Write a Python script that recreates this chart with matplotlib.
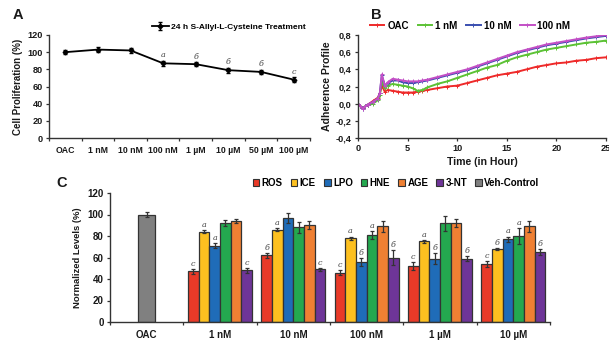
import matplotlib
matplotlib.use("Agg")
import matplotlib.pyplot as plt
from matplotlib.patches import Patch
from matplotlib.ticker import FuncFormatter, FixedLocator
import numpy as np

plt.rcParams['font.family'] = ['Liberation Sans', 'DejaVu Sans']
plt.rcParams['font.weight'] = 'bold'
plt.rcParams['axes.labelweight'] = 'bold'

# ---------------- Panel A data ----------------
a_cats = ["OAC", "1 nM", "10 nM", "100 nM", "1 µM", "10 µM", "50 µM", "100 µM"]
a_vals = [100, 103, 102, 87, 86, 79, 77, 68]
a_err = [2.5, 2.5, 2.5, 3, 2.5, 3, 2.5, 3]
a_letters = ["", "", "", "a", "б", "б", "б", "c"]
a_legend = "24 h S-Allyl-L-Cysteine Treatment"

# ---------------- Panel B data ----------------
b_time = [0, 0.25, 0.5, 0.75, 1, 1.5, 2, 2.2, 2.4, 2.7, 3, 3.5, 4, 4.5, 5, 5.5, 6, 6.5, 7,
          8, 9, 10, 11, 12, 13, 14, 15, 16, 17, 18, 19, 20, 21, 22, 23, 24, 25]
b_oac = [0.0, -0.03, -0.05, -0.03, -0.01, 0.03, 0.07, 0.12, 0.21, 0.14, 0.16, 0.15, 0.14, 0.13,
         0.13, 0.13, 0.14, 0.15, 0.16, 0.18, 0.20, 0.21, 0.24, 0.27, 0.30, 0.33, 0.35, 0.37,
         0.40, 0.43, 0.45, 0.47, 0.48, 0.50, 0.51, 0.53, 0.54]
b_1nm = [0.0, -0.03, -0.05, -0.03, -0.02, 0.0, 0.04, 0.10, 0.26, 0.18, 0.21, 0.23, 0.22, 0.21,
         0.20, 0.18, 0.15, 0.16, 0.19, 0.23, 0.26, 0.30, 0.34, 0.38, 0.42, 0.45, 0.50, 0.54,
         0.57, 0.60, 0.63, 0.65, 0.67, 0.69, 0.71, 0.72, 0.735]
b_10nm = [0.0, -0.03, -0.06, -0.03, -0.01, 0.02, 0.06, 0.12, 0.33, 0.21, 0.24, 0.27, 0.27, 0.25,
          0.24, 0.24, 0.25, 0.26, 0.27, 0.30, 0.33, 0.36, 0.39, 0.43, 0.47, 0.51, 0.55, 0.59,
          0.62, 0.65, 0.68, 0.70, 0.72, 0.74, 0.76, 0.775, 0.79]
b_100nm = [0.0, -0.03, -0.06, -0.03, -0.01, 0.02, 0.06, 0.12, 0.34, 0.21, 0.25, 0.29, 0.28, 0.27,
           0.26, 0.26, 0.26, 0.27, 0.28, 0.31, 0.34, 0.37, 0.40, 0.44, 0.48, 0.52, 0.56, 0.60,
           0.63, 0.66, 0.69, 0.71, 0.73, 0.75, 0.77, 0.785, 0.80]
b_names = ["OAC", "1 nM", "10 nM", "100 nM"]
b_colors = ["#ee2a2a", "#5cc235", "#3a4fb0", "#c34fc6"]

# ---------------- Panel C data ----------------
c_groups = ["OAC", "1 nM", "10 nM", "100 nM", "1 µM", "10 µM"]
c_series = ["ROS", "ICE", "LPO", "HNE", "AGE", "3-NT", "Veh-Control"]
c_colors = ["#e93a28", "#fdc020", "#1f6cb8", "#24a84f", "#ef8033", "#6e3598", "#808080"]
c_oac_val = 100
c_oac_err = 2.5
c_ros = [47, 62, 46, 52, 54]
c_ice = [84, 86, 78, 75, 68]
c_lpo = [71, 97, 56, 59, 77]
c_hne = [92, 88, 81, 92, 80]
c_age = [94, 90, 89, 92, 89]
c_3nt = [48, 49, 60, 59, 65]
c_ros_e = [2, 2, 2.5, 4, 3]
c_ice_e = [1.5, 1, 1.5, 1.5, 1]
c_lpo_e = [2.5, 4.5, 3.5, 5.5, 2.5]
c_hne_e = [2.5, 5, 4, 7, 7]
c_age_e = [2, 3.5, 5, 4, 5]
c_3nt_e = [2.5, 1.5, 7, 2, 2.5]
c_ros_l = ["c", "б", "c", "c", "c"]
c_ice_l = ["a", "a", "a", "a", "б"]
c_lpo_l = ["a", "", "б", "б", "a"]
c_hne_l = ["", "", "a", "", "a"]
c_age_l = ["", "", "", "", ""]
c_3nt_l = ["c", "c", "б", "б", "б"]

TXT = "#1a1a1a"
SP = "#333333"
fig = plt.figure(figsize=(6.09, 3.4), dpi=100)

def style(ax, ls=7.0):
    for s in ("top", "right"):
        ax.spines[s].set_visible(False)
    for s in ("left", "bottom"):
        ax.spines[s].set_color(SP)
        ax.spines[s].set_linewidth(1.0)
    ax.tick_params(colors=SP, labelcolor=TXT, labelsize=ls, width=0.9, length=2.5, pad=2)

letter_font = dict(family="DejaVu Serif", style="italic", weight="normal", fontsize=5.8, color="#444444")

# ---------------- Panel A ----------------
axA = fig.add_axes([49/609, 1-138/340, 261/609, 103/340])
style(axA, 6.6)
xa = np.arange(len(a_cats))
axA.errorbar(xa, a_vals, yerr=a_err, color="black", lw=1.3, marker="D", ms=2.4,
             capsize=1.3, elinewidth=1.0, label=a_legend)
for x, v, e, l in zip(xa, a_vals, a_err, a_letters):
    if l:
        axA.text(x, v + e + 1.5, l, ha="center", va="bottom", **letter_font)
axA.set_xlim(-0.5, len(a_cats) - 0.5)
axA.set_ylim(0, 120)
axA.set_yticks(range(0, 121, 20))
axA.set_xticks(xa)
axA.set_xticklabels(a_cats)
axA.tick_params(axis="x", length=0, pad=6, labelsize=6.3)
axA.xaxis.set_minor_locator(FixedLocator(np.arange(-0.5, len(a_cats), 1)))
axA.tick_params(axis="x", which="minor", length=2.5, color=SP, width=0.9)
axA.set_ylabel("Cell Proliferation (%)", fontsize=7.0, color=TXT, labelpad=3)
axA.legend(loc="lower right", bbox_to_anchor=(1.0, 1.0), frameon=False, fontsize=6.0,
           handlelength=2.0, borderaxespad=0.1, handletextpad=0.3)
fig.text(18/609, 1-15/340, "A", fontsize=10.5, weight="bold", color=TXT, ha="center", va="center")

# ---------------- Panel B ----------------
axB = fig.add_axes([358/609, 1-138/340, 248/609, 103/340])
style(axB, 6.6)
for vals, name, col in zip([b_oac, b_1nm, b_10nm, b_100nm], b_names, b_colors):
    axB.plot(b_time, vals, color=col, lw=1.4, marker="+", ms=2.4, mew=0.7, label=name)
axB.set_xlim(0, 25)
axB.set_ylim(-0.4, 0.8)
axB.set_xticks([0, 5, 10, 15, 20, 25])
axB.set_yticks([-0.4, -0.2, 0.0, 0.2, 0.4, 0.6, 0.8])
axB.yaxis.set_major_formatter(FuncFormatter(lambda v, p: ("%.1f" % v).replace(".", ",").replace("−", "-")))
axB.set_xlabel("Time (in Hour)", fontsize=7.6, color=TXT, labelpad=3)
axB.set_ylabel("Adherence Profile", fontsize=7.6, color=TXT, labelpad=3)
axB.legend(loc="lower left", bbox_to_anchor=(0.03, 1.0), ncol=4, frameon=False, fontsize=7.0,
           handlelength=1.5, columnspacing=0.9, handletextpad=0.3, borderaxespad=0.05)
fig.text(376/609, 1-15/340, "B", fontsize=10.5, weight="bold", color=TXT, ha="center", va="center")

# ---------------- Panel C ----------------
axC = fig.add_axes([110/609, 1-322/340, 440/609, 129/340])
style(axC, 7.0)
w = 0.146
series_vals = [c_ros, c_ice, c_lpo, c_hne, c_age, c_3nt]
series_errs = [c_ros_e, c_ice_e, c_lpo_e, c_hne_e, c_age_e, c_3nt_e]
series_lets = [c_ros_l, c_ice_l, c_lpo_l, c_hne_l, c_age_l, c_3nt_l]
xg = np.arange(1, len(c_groups))
ekw = dict(elinewidth=0.9, ecolor="#333333", capthick=0.9)
for k, (vals, errs, lets) in enumerate(zip(series_vals, series_errs, series_lets)):
    xs = xg + (k - 2.5) * w
    axC.bar(xs, vals, width=w, color=c_colors[k], edgecolor="#333333", linewidth=0.9,
            yerr=errs, capsize=1.6, error_kw=ekw)
    for x, v, e, l in zip(xs, vals, errs, lets):
        if l:
            axC.text(x, v + e + 1.0, l, ha="center", va="bottom", **letter_font)
axC.bar([0], [c_oac_val], width=0.23, color=c_colors[6], edgecolor="#333333", linewidth=0.9,
        yerr=[c_oac_err], capsize=1.6, error_kw=ekw)
axC.set_xlim(-0.5, len(c_groups) - 0.5)
axC.set_ylim(0, 120)
axC.set_yticks(range(0, 121, 20))
axC.set_xticks(np.arange(len(c_groups)))
axC.set_xticklabels(c_groups)
axC.tick_params(axis="x", length=0, pad=6)
axC.xaxis.set_minor_locator(FixedLocator(np.arange(-0.5, len(c_groups), 1)))
axC.tick_params(axis="x", which="minor", length=2.5, color=SP, width=0.9)
axC.set_ylabel("Normalized Levels (%)", fontsize=6.8, color=TXT, labelpad=4)
handles = [Patch(facecolor=c, edgecolor="#333333", linewidth=0.8) for c in c_colors]
fig.legend(handles, c_series, loc="center", bbox_to_anchor=(396/609, 1-183/340), ncol=7,
           frameon=False, fontsize=7.0, handlelength=0.7, handleheight=0.7,
           handletextpad=0.25, columnspacing=0.8)
fig.text(62/609, 1-183/340, "C", fontsize=10.5, weight="bold", color=TXT, ha="center", va="center")

fig.savefig("out.png", dpi=100)
